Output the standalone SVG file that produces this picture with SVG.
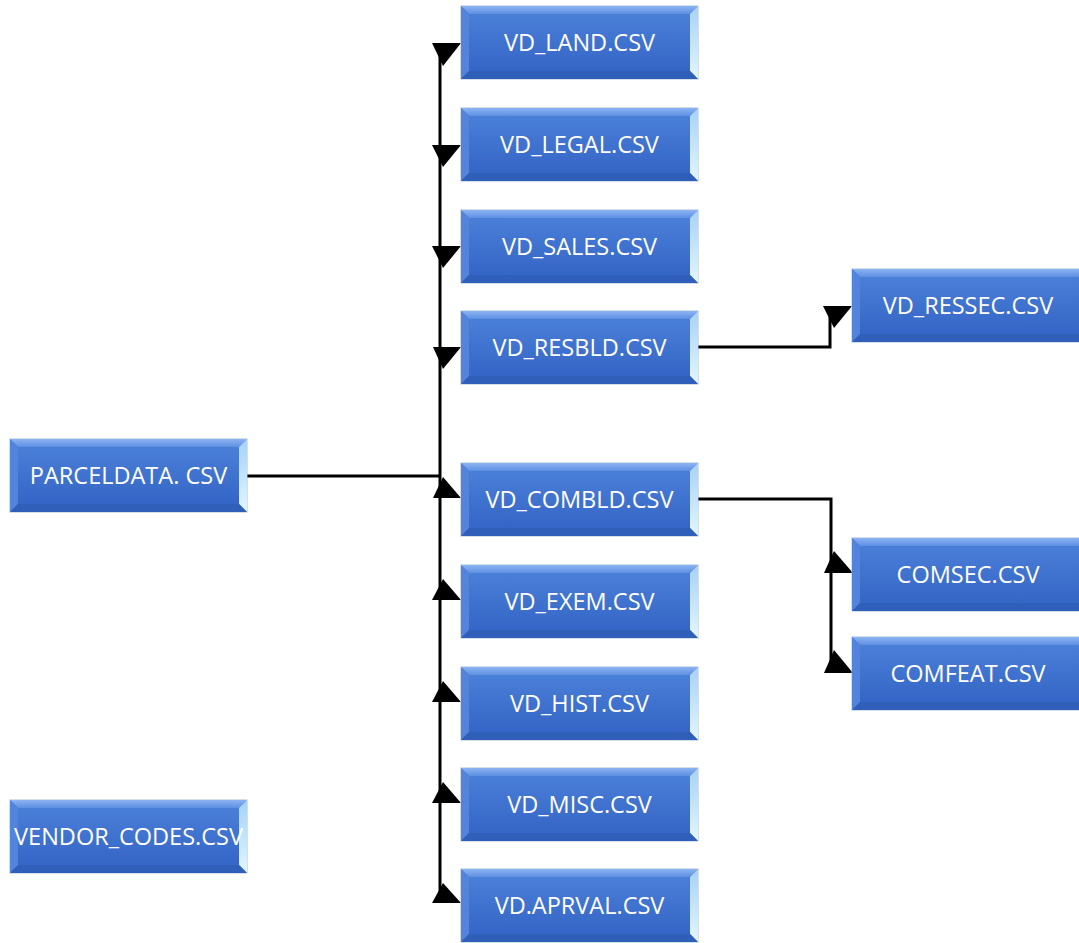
<svg xmlns="http://www.w3.org/2000/svg" xmlns:xlink="http://www.w3.org/1999/xlink" width="1079" height="943" viewBox="0 0 1079 943">
<style>
.lbl{font-family:"Open Sans","Liberation Sans",sans-serif;font-size:23.5px;fill:#ffffff;text-anchor:middle}
.ln{fill:none;stroke:#000000;stroke-width:3;stroke-linejoin:miter}
.ah{fill:#000000;stroke:none}
</style>
<defs>
<linearGradient id="gTop" x1="0" y1="0" x2="0" y2="1"><stop offset="0" stop-color="#8cb4f2"/><stop offset="1" stop-color="#5e8fe2"/></linearGradient>
<linearGradient id="gBody" x1="0" y1="0" x2="0" y2="1"><stop offset="0" stop-color="#4a7fd8"/><stop offset="1" stop-color="#3565c6"/></linearGradient>
<linearGradient id="gRight" x1="0" y1="0" x2="0" y2="1"><stop offset="0" stop-color="#a6d2f6"/><stop offset="1" stop-color="#e2f6ff"/></linearGradient>
<g id="bx">
<rect x="0" y="0" width="237" height="73" fill="#3d6fcb" stroke="#aebdd2" stroke-width="1"/>
<polygon points="0,0 237,0 229,8 8,8" fill="url(#gTop)"/>
<polygon points="0,0 8,8 8,65 0,73" fill="#5284db"/>
<polygon points="237,0 237,73 229,65 229,8" fill="url(#gRight)"/>
<polygon points="0,73 8,65 229,65 237,73" fill="#2f5fb9"/>
<rect x="8" y="8" width="221" height="57" fill="url(#gBody)"/>
</g>
</defs>
<rect x="0" y="0" width="1079" height="943" fill="#ffffff"/>
<g id="connectors">
<path class="ln" d="M247,476 H440"/>
<path class="ln" d="M440,43 V903"/>
<path class="ln" d="M698,347 H830 V306"/>
<path class="ln" d="M698,499 H831 V673"/>
<polygon class="ah" points="432,43 461,43 443,66"/>
<polygon class="ah" points="432,145 461,145 443,167"/>
<polygon class="ah" points="432,246 461,246 443,268"/>
<polygon class="ah" points="433,347 461,347 443,369"/>
<polygon class="ah" points="433,498 461,498 443,477"/>
<polygon class="ah" points="432,600 461,600 443,579"/>
<polygon class="ah" points="432,702 461,702 443,681"/>
<polygon class="ah" points="432,803 461,803 443,782"/>
<polygon class="ah" points="432,903 461,903 443,883"/>
<polygon class="ah" points="823,306 852,306 834,328"/>
<polygon class="ah" points="824,573 853,573 834,551"/>
<polygon class="ah" points="824,673 853,673 834,650"/>
</g>
<g id="parceldata"><use xlink:href="#bx" x="10" y="439"/><text class="lbl" x="128.5" y="484">PARCELDATA. CSV</text></g>
<g id="vendor_codes"><use xlink:href="#bx" x="10" y="800"/><text class="lbl" x="128.5" y="845">VENDOR_CODES.CSV</text></g>
<g id="vd_land"><use xlink:href="#bx" x="461" y="6"/><text class="lbl" x="579.5" y="51">VD_LAND.CSV</text></g>
<g id="vd_legal"><use xlink:href="#bx" x="461" y="108"/><text class="lbl" x="579.5" y="153">VD_LEGAL.CSV</text></g>
<g id="vd_sales"><use xlink:href="#bx" x="461" y="210"/><text class="lbl" x="579.5" y="255">VD_SALES.CSV</text></g>
<g id="vd_resbld"><use xlink:href="#bx" x="461" y="311"/><text class="lbl" x="579.5" y="356">VD_RESBLD.CSV</text></g>
<g id="vd_combld"><use xlink:href="#bx" x="461" y="463"/><text class="lbl" x="579.5" y="508">VD_COMBLD.CSV</text></g>
<g id="vd_exem"><use xlink:href="#bx" x="461" y="565"/><text class="lbl" x="579.5" y="610">VD_EXEM.CSV</text></g>
<g id="vd_hist"><use xlink:href="#bx" x="461" y="667"/><text class="lbl" x="579.5" y="712">VD_HIST.CSV</text></g>
<g id="vd_misc"><use xlink:href="#bx" x="461" y="768"/><text class="lbl" x="579.5" y="813">VD_MISC.CSV</text></g>
<g id="vd_aprval"><use xlink:href="#bx" x="461" y="869"/><text class="lbl" x="579.5" y="914">VD.APRVAL.CSV</text></g>
<g id="vd_ressec"><use xlink:href="#bx" x="852" y="269"/><text class="lbl" x="968" y="314">VD_RESSEC.CSV</text></g>
<g id="comsec"><use xlink:href="#bx" x="852" y="538"/><text class="lbl" x="968" y="583">COMSEC.CSV</text></g>
<g id="comfeat"><use xlink:href="#bx" x="852" y="637"/><text class="lbl" x="968" y="682">COMFEAT.CSV</text></g>
</svg>
